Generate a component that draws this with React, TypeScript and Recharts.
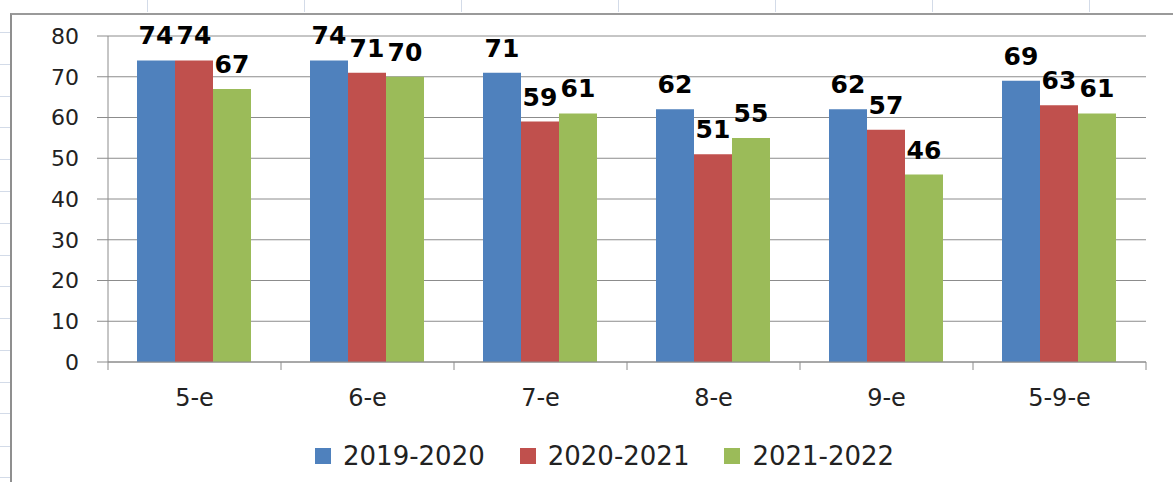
import { Bar, BarChart, CartesianGrid, LabelList, XAxis, YAxis } from "recharts";

const categories = ["5-e", "6-e", "7-e", "8-e", "9-e", "5-9-e"];
const seriesNames = ["2019-2020", "2020-2021", "2021-2022"];
const values2019 = [74, 74, 71, 62, 62, 69];
const values2020 = [74, 71, 59, 51, 57, 63];
const values2021 = [67, 70, 61, 55, 46, 61];
const yTicks = [0, 10, 20, 30, 40, 50, 60, 70, 80];

const COLORS = ["#4F81BD", "#C0504D", "#9BBB59"];
const FONT = "'DejaVu Sans', Verdana, sans-serif";
const HALF_BAND = 86.5;

const data = categories.map((name, i) => ({
  name,
  s0: values2019[i],
  s1: values2020[i],
  s2: values2021[i],
}));

function CategoryTick(props: any) {
  const { x, payload, index } = props;
  const axisY = 362;
  return (
    <g>
      <line x1={x - HALF_BAND} y1={axisY} x2={x - HALF_BAND} y2={axisY + 8} stroke="#8c8c8c" />
      {index === categories.length - 1 && (
        <line x1={x + HALF_BAND} y1={axisY} x2={x + HALF_BAND} y2={axisY + 8} stroke="#8c8c8c" />
      )}
      <text x={x} y={axisY + 44} textAnchor="middle" fontSize={24} fill="#222" fontFamily={FONT}>
        {payload.value}
      </text>
    </g>
  );
}

function ValueLabel(props: any) {
  const { x, y, width, value } = props;
  return (
    <text
      x={x + width / 2}
      y={y - 16}
      textAnchor="middle"
      fontSize={25}
      fontWeight="bold"
      fill="#000"
      fontFamily={FONT}
    >
      {value}
    </text>
  );
}

export default function App() {
  const sheetCols = [147, 304, 461, 618, 775, 932, 1089];
  const sheetRows = [32, 64, 96, 127, 159, 191, 223, 255, 286, 318, 350, 382, 413, 446, 477];

  return (
    <div
      style={{
        position: "absolute",
        left: 0,
        top: 0,
        width: 1173,
        height: 482,
        background: "#fff",
        overflow: "hidden",
        fontFamily: FONT,
      }}
    >
      {sheetCols.map((x) => (
        <div key={x} style={{ position: "absolute", left: x, top: 0, width: 1, height: 12, background: "#d3dbe8" }} />
      ))}
      {sheetRows.map((y) => (
        <div key={y} style={{ position: "absolute", left: 0, top: y, width: 10, height: 1, background: "#d3dbe8" }} />
      ))}
      <div
        style={{
          position: "absolute",
          left: 10,
          top: 13,
          width: 1173,
          height: 482,
          borderLeft: "2px solid #8f8f8f",
          borderTop: "2px solid #9a9a9a",
        }}
      />
      <div style={{ position: "absolute", left: 0, top: 0 }}>
        <BarChart
          width={1173}
          height={482}
          data={data}
          margin={{ top: 36, right: 27, left: 48, bottom: 0 }}
          barCategoryGap={29}
          barGap={0}
        >
          <CartesianGrid vertical={false} stroke="#8c8c8c" />
          <XAxis
            dataKey="name"
            height={120}
            tickLine={false}
            axisLine={{ stroke: "#8c8c8c" }}
            tick={<CategoryTick />}
            interval={0}
          />
          <YAxis
            width={60}
            domain={[0, 80]}
            ticks={yTicks}
            tickSize={11}
            tickMargin={18}
            tickLine={{ stroke: "#8c8c8c" }}
            axisLine={{ stroke: "#8c8c8c" }}
            tick={{ fontSize: 22, fill: "#222", fontFamily: FONT }}
          />
          {["s0", "s1", "s2"].map((key, i) => (
            <Bar key={key} dataKey={key} fill={COLORS[i]} isAnimationActive={false}>
              <LabelList dataKey={key} content={<ValueLabel />} />
            </Bar>
          ))}
        </BarChart>
      </div>
      <div
        style={{
          position: "absolute",
          left: 315,
          top: 441,
          display: "flex",
          alignItems: "center",
          fontSize: 26,
          color: "#222",
        }}
      >
        {seriesNames.map((name, i) => (
          <div key={name} style={{ display: "flex", alignItems: "center", marginRight: 35 }}>
            <span style={{ width: 16, height: 16, background: COLORS[i], marginRight: 12 }} />
            <span>{name}</span>
          </div>
        ))}
      </div>
    </div>
  );
}
